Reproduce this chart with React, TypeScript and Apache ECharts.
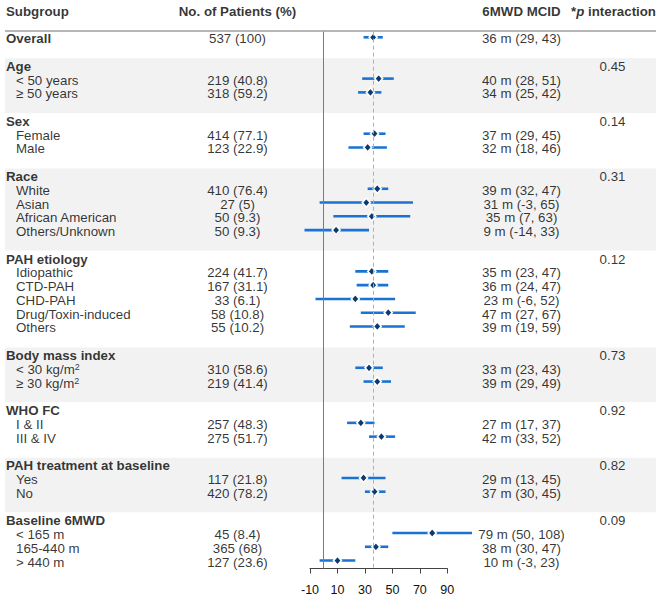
import React, { useEffect, useRef } from "react";
import * as echarts from "echarts";

// ---------- data ----------
const groupNames = [
  "Overall",
  "Age",
  "Sex",
  "Race",
  "PAH etiology",
  "Body mass index",
  "WHO FC",
  "PAH treatment at baseline",
  "Baseline 6MWD",
];
const pInteraction = ["", "0.45", "0.14", "0.31", "0.12", "0.73", "0.92", "0.82", "0.09"];
const groupItems = [
  [],
  ["< 50 years", "≥ 50 years"],
  ["Female", "Male"],
  ["White", "Asian", "African American", "Others/Unknown"],
  ["Idiopathic", "CTD-PAH", "CHD-PAH", "Drug/Toxin-induced", "Others"],
  ["< 30 kg/m²", "≥ 30 kg/m²"],
  ["I & II", "III & IV"],
  ["Yes", "No"],
  ["< 165 m", "165-440 m", "> 440 m"],
];
// one entry per data row (Overall first, then items in order)
const patientsN = [537, 219, 318, 414, 123, 410, 27, 50, 50, 224, 167, 33, 58, 55, 310, 219, 257, 275, 117, 420, 45, 365, 127];
const patientsPct = [100, 40.8, 59.2, 77.1, 22.9, 76.4, 5, 9.3, 9.3, 41.7, 31.1, 6.1, 10.8, 10.2, 58.6, 41.4, 48.3, 51.7, 21.8, 78.2, 8.4, 68, 23.6];
const mcid = [36, 40, 34, 37, 32, 39, 31, 35, 9, 35, 36, 23, 47, 39, 33, 39, 27, 42, 29, 37, 79, 38, 10];
const lower = [29, 28, 25, 29, 18, 32, -3, 7, -14, 23, 24, -6, 27, 19, 23, 29, 17, 33, 13, 30, 50, 30, -3];
const upper = [43, 51, 42, 45, 46, 47, 65, 63, 33, 47, 47, 52, 67, 59, 43, 49, 37, 52, 45, 45, 108, 47, 23];
const xTicks = { min: -10, max: 90, interval: 20 };
const columnHeaders = ["Subgroup", "No. of Patients (%)", "6MWD MCID", "*p interaction"];

// ---------- layout ----------
const FONT = "'Liberation Sans', Arial, sans-serif";
const FS = 13.3;
const CI_COLOR = "#1a73d2";
const PT_COLOR = "#0b3a6e";
const X_GROUP = 6;
const X_ITEM = 16;
const X_N = 237.5;
const X_MCID = 521.5;
const X_P = 612.5;
const Y0 = 37.3; // px of line 0
const DY = 13.77; // px per line
const lineOf = (px: number) => (px - Y0) / DY;

// build rows
type Row = { label: string; header: boolean; line: number; d: number };
const rows: Row[] = [];
const headerLines: number[] = [];
{
  let line = 0;
  let d = 0;
  groupNames.forEach((g, gi) => {
    if (gi === 0) {
      rows.push({ label: g, header: true, line, d: d++ });
      headerLines.push(line);
      return;
    }
    line += 2;
    headerLines.push(line);
    rows.push({ label: g, header: true, line, d: -1 });
    groupItems[gi].forEach((it) => {
      line += 1;
      rows.push({ label: it, header: false, line, d: d++ });
    });
  });
}
const dataRows = rows.filter((r) => r.d >= 0);

const labelFmt = (s: string) => {
  if (s.includes("²")) {
    const [a, b] = s.split("²");
    return `{n|${a}}{sup|2}{n|${b}}`;
  }
  return `{n|${s}}`;
};

const textSeries = (
  id: string,
  data: any[],
  align: string,
  bold: boolean
) => ({
  id,
  type: "scatter",
  xAxisIndex: 1,
  yAxisIndex: 1,
  symbolSize: 0.1,
  itemStyle: { color: "transparent" },
  silent: true,
  z: 6,
  data,
  label: {
    show: true,
    position: "inside",
    align,
    verticalAlign: "middle",
    offset: [0, 1.5],
    formatter: (p: any) => p.data[2],
    rich: {
      n: { fontSize: FS, fontFamily: FONT, color: "#000", fontWeight: bold ? "bold" : "normal" },
      sup: { fontSize: 9, fontFamily: FONT, color: "#000", verticalAlign: "top", padding: [0, 0, 0, 0] },
      i: { fontSize: FS, fontFamily: FONT, color: "#000", fontWeight: "bold", fontStyle: "italic" },
    },
  },
});

export default function App() {
  const ref = useRef<HTMLDivElement>(null);
  useEffect(() => {
    document.body.style.margin = "0";
    const chart = echarts.init(ref.current!, null, { renderer: "svg" });

    const bands: any[] = [];
    for (let gi = 1; gi < groupNames.length; gi += 2) {
      const start = headerLines[gi] - 0.47;
      const end = gi + 1 < headerLines.length ? headerLines[gi + 1] - 0.51 : 38.5;
      bands.push([{ yAxis: start }, { yAxis: end }]);
    }

    const option: any = {
      animation: false,
      grid: [
        { left: 310, right: 662 - 447.3, top: 31.7, bottom: 600 - 568.5 },
        { left: 5, right: 6, top: 0, bottom: 0 },
      ],
      xAxis: [
        {
          type: "value",
          gridIndex: 0,
          position: "bottom",
          min: xTicks.min,
          max: xTicks.max,
          interval: xTicks.interval,
          splitLine: { show: false },
          axisLine: { show: true, onZero: false, lineStyle: { color: "#444", width: 1 } },
          axisTick: { show: true, length: 5, lineStyle: { color: "#444" } },
          axisLabel: { fontSize: 12.5, fontFamily: FONT, color: "#111", margin: 15 },
        },
        { type: "value", gridIndex: 1, min: 5, max: 656, show: false },
      ],
      yAxis: [
        { type: "value", gridIndex: 0, inverse: true, min: lineOf(31.7), max: lineOf(568.5), show: false },
        { type: "value", gridIndex: 1, inverse: true, min: lineOf(0), max: lineOf(600), show: false },
      ],
      series: [
        {
          id: "bands",
          type: "line",
          xAxisIndex: 1,
          yAxisIndex: 1,
          data: [],
          z: 1,
          silent: true,
          markArea: { silent: true, itemStyle: { color: "#f2f2f2" }, data: bands },
          markLine: {
            silent: true,
            symbol: "none",
            label: { show: false },
            lineStyle: { color: "#9e9e9e", width: 1.6, type: "solid" },
            data: [{ yAxis: lineOf(31) }],
          },
        },
        {
          id: "ci",
          type: "custom",
          xAxisIndex: 0,
          yAxisIndex: 0,
          clip: false,
          z: 3,
          encode: { x: [0, 1], y: 2 },
          data: dataRows.map((r) => [lower[r.d], upper[r.d], r.line]),
          renderItem: (params: any, api: any) => {
            const a = api.coord([api.value(0), api.value(2)]);
            const b = api.coord([api.value(1), api.value(2)]);
            return {
              type: "line",
              shape: { x1: a[0], y1: a[1], x2: b[0], y2: b[1] },
              style: { stroke: CI_COLOR, lineWidth: 2.6 },
            };
          },
          markLine: {
            silent: true,
            symbol: "none",
            label: { show: false },
            data: [
              { xAxis: 0, lineStyle: { color: "#7a7a7a", width: 1, type: "solid" } },
              { xAxis: mcid[0], lineStyle: { color: "#b0b0b0", width: 1, type: [4, 3] } },
            ],
          },
        },
        {
          id: "points",
          type: "scatter",
          xAxisIndex: 0,
          yAxisIndex: 0,
          z: 4,
          symbol: "diamond",
          symbolSize: [8, 9],
          itemStyle: { color: PT_COLOR, borderColor: "#fff", borderWidth: 1.6, opacity: 1 },
          data: dataRows.map((r) => [mcid[r.d], r.line]),
        },
        textSeries(
          "groupLabels",
          rows.filter((r) => r.header).map((r) => [X_GROUP, r.line, labelFmt(r.label)]),
          "left",
          true
        ),
        textSeries(
          "itemLabels",
          rows.filter((r) => !r.header).map((r) => [X_ITEM, r.line, labelFmt(r.label)]),
          "left",
          false
        ),
        textSeries(
          "nCol",
          dataRows.map((r) => [X_N, r.line, `{n|${patientsN[r.d]} (${patientsPct[r.d]})}`]),
          "center",
          false
        ),
        textSeries(
          "mcidCol",
          dataRows.map((r) => [X_MCID, r.line, `{n|${mcid[r.d]} m (${lower[r.d]}, ${upper[r.d]})}`]),
          "center",
          false
        ),
        textSeries(
          "pCol",
          headerLines
            .map((l, gi) => [X_P, l, `{n|${pInteraction[gi]}}`])
            .filter((_, gi) => pInteraction[gi] !== ""),
          "center",
          false
        ),
        textSeries(
          "hdrLeft",
          [[X_GROUP, -2, `{n|${columnHeaders[0]}}`]],
          "left",
          true
        ),
        textSeries(
          "hdrCenter",
          [
            [X_N, -2, `{n|${columnHeaders[1]}}`],
            [X_MCID, -2, `{n|${columnHeaders[2]}}`],
            [613.5, -2, `{n|*}{i|p}{n|${columnHeaders[3].slice(2)}}`],
          ],
          "center",
          true
        ),
      ],
    };
    chart.setOption(option);
    return () => chart.dispose();
  }, []);
  return <div ref={ref} style={{ width: 662, height: 600 }} />;
}
